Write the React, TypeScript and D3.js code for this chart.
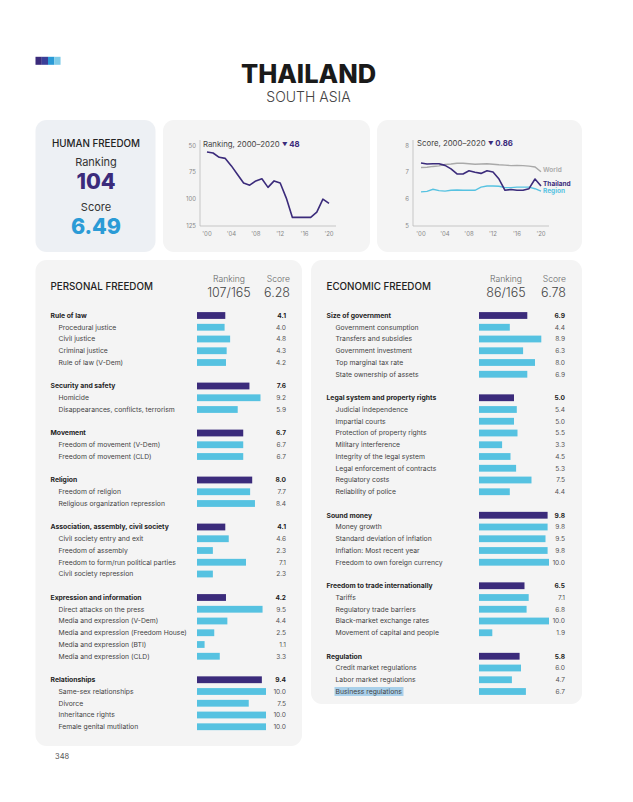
import React from "react";
import * as d3 from "d3";

// ---------- DATA ----------
const country = "THAILAND";
const regionName = "SOUTH ASIA";
const hfRanking = 104;
const hfScore = "6.49";

const years = [2000,2001,2002,2003,2004,2005,2006,2007,2008,2009,2010,2011,2012,2013,2014,2015,2016,2017,2018,2019,2020];
const rankingSeries = [56,57,61,62,69,77,85,87,83,81,89,83,85,99,117,117,117,117,112,100,104];
const thailandScore = [7.35,7.31,7.32,7.32,7.26,7.13,6.94,6.94,7.06,7.0,6.96,7.06,7.01,6.75,6.33,6.36,6.33,6.33,6.39,6.75,6.49];
const worldScore = [7.18,7.19,7.22,7.24,7.29,7.31,7.34,7.34,7.32,7.3,7.31,7.32,7.3,7.28,7.27,7.25,7.26,7.25,7.23,7.2,7.02];
const regionScore = [6.27,6.29,6.37,6.32,6.3,6.33,6.34,6.33,6.33,6.33,6.45,6.49,6.49,6.48,6.43,6.43,6.45,6.45,6.45,6.39,6.3];
const rankTicks = [50,75,100,125];
const scoreTicks = [5,6,7,8];
const yearTicks = [2000,2004,2008,2012,2016,2020];

const personalLabels = [
  "Rule of law","Procedural justice","Civil justice","Criminal justice","Rule of law (V-Dem)",
  "Security and safety","Homicide","Disappearances, conflicts, terrorism",
  "Movement","Freedom of movement (V-Dem)","Freedom of movement (CLD)",
  "Religion","Freedom of religion","Religious organization repression",
  "Association, assembly, civil society","Civil society entry and exit","Freedom of assembly","Freedom to form/run political parties","Civil society repression",
  "Expression and information","Direct attacks on the press","Media and expression (V-Dem)","Media and expression (Freedom House)","Media and expression (BTI)","Media and expression (CLD)",
  "Relationships","Same-sex relationships","Divorce","Inheritance rights","Female genital mutilation",
];
const personalValues = [
  4.1,4.0,4.8,4.3,4.2,
  7.6,9.2,5.9,
  6.7,6.7,6.7,
  8.0,7.7,8.4,
  4.1,4.6,2.3,7.1,2.3,
  4.2,9.5,4.4,2.5,1.1,3.3,
  9.4,10.0,7.5,10.0,10.0,
];
const personalHeader = [
  1,0,0,0,0,
  1,0,0,
  1,0,0,
  1,0,0,
  1,0,0,0,0,
  1,0,0,0,0,0,
  1,0,0,0,0,
];

const economicLabels = [
  "Size of government","Government consumption","Transfers and subsidies","Government investment","Top marginal tax rate","State ownership of assets",
  "Legal system and property rights","Judicial independence","Impartial courts","Protection of property rights","Military interference","Integrity of the legal system","Legal enforcement of contracts","Regulatory costs","Reliability of police",
  "Sound money","Money growth","Standard deviation of inflation","Inflation: Most recent year","Freedom to own foreign currency",
  "Freedom to trade internationally","Tariffs","Regulatory trade barriers","Black-market exchange rates","Movement of capital and people",
  "Regulation","Credit market regulations","Labor market regulations","Business regulations",
];
const economicValues = [
  6.9,4.4,8.9,6.3,8.0,6.9,
  5.0,5.4,5.0,5.5,3.3,4.5,5.3,7.5,4.4,
  9.8,9.8,9.5,9.8,10.0,
  6.5,7.1,6.8,10.0,1.9,
  5.8,6.0,4.7,6.7,
];
const economicHeader = [
  1,0,0,0,0,0,
  1,0,0,0,0,0,0,0,0,
  1,0,0,0,0,
  1,0,0,0,0,
  1,0,0,0,
];

// ---------- STYLE ----------
const DARK = "#3b2b7b";
const LIGHT = "#56c2e1";
const SCOREBLUE = "#2b9bd6";
const FONT = "Inter, 'Open Sans', sans-serif";

function rowSteps(header: number[]) {
  const steps: number[] = [];
  let s = -1;
  header.forEach((h, i) => {
    if (h && i > 0) s += 2; else s += 1;
    steps.push(s);
  });
  return steps;
}

function Panel(props: {
  x: number; w: number; y: number; h: number;
  title: string; rank: string; score: string;
  labels: string[]; values: number[]; header: number[];
  barX0: number; barX1: number; valueX: number; labelX: number; subX: number;
  rankX: number; scoreX: number; highlight?: string;
}) {
  const p = props;
  const steps = rowSteps(p.header);
  const y = d3.scaleLinear().domain([0, 1]).range([315.5, 327.25]);
  const xb = d3.scaleLinear().domain([0, 10]).range([p.barX0, p.barX1]);
  return (
    <g>
      <rect x={p.x} y={p.y} width={p.w} height={p.h} rx={11} fill="#f4f4f4" />
      <text x={p.labelX} y={289.5} fontSize={9.8} fontWeight={500} fill="#222">{p.title}</text>
      <text x={p.rankX} y={282} fontSize={8.6} fill="#666" textAnchor="middle" fontWeight={300}>Ranking</text>
      <text x={p.rankX} y={297} fontSize={12.5} fill="#444" textAnchor="middle" fontWeight={300}>{p.rank}</text>
      <text x={p.scoreX} y={282} fontSize={8.6} fill="#666" textAnchor="end" fontWeight={300}>Score</text>
      <text x={p.scoreX} y={297} fontSize={12.5} fill="#444" textAnchor="end" fontWeight={300}>{p.score}</text>
      {p.labels.map((lab, i) => {
        const cy = y(steps[i]);
        const isH = p.header[i] === 1;
        const tx = isH ? p.labelX : p.subX;
        return (
          <g key={i}>
            {p.highlight === lab && (
              <rect x={tx - 1} y={cy - 4.5} width={69} height={9} fill="#a9d0ea" />
            )}
            <text x={tx} y={cy + 2.4} fontSize={6.8} fontWeight={isH ? 700 : 400} fill={isH ? "#1e1e1e" : "#444"}>{lab}</text>
            <rect x={xb(0)} y={cy - 3.4} width={xb(p.values[i]) - xb(0)} height={6.8} fill={isH ? DARK : LIGHT} />
            <text x={p.valueX} y={cy + 2.4} fontSize={6.6} textAnchor="end" fontWeight={isH ? 700 : 400} fill={isH ? "#1e1e1e" : "#555"}>{p.values[i].toFixed(1)}</text>
          </g>
        );
      })}
    </g>
  );
}

export default function App() {
  const yearFmt = (v: number) => "'" + String(v).slice(2);

  // Ranking chart
  const rx = d3.scaleLinear().domain([2000, 2020]).range([207, 329]);
  const ry = d3.scaleLinear().domain([50, 125]).range([145.5, 226]);
  const rankLine = d3.line<number>().x((_, i) => rx(years[i])).y((d) => ry(d))(rankingSeries) || "";

  // Score chart
  const sx = d3.scaleLinear().domain([2000, 2020]).range([421, 541]);
  const sy = d3.scaleLinear().domain([5, 8]).range([226, 145.5]);
  const sLine = d3.line<number>().x((_, i) => sx(years[i])).y((d) => sy(d));

  return (
    <svg width={633} height={802} style={{ position: "absolute", left: 0, top: 0, display: "block", fontFamily: FONT }}>
      <rect x={0} y={0} width={633} height={802} fill="#fff" />
      {/* colour squares */}
      {[DARK, "#3b3f98", "#2a9ad6", "#7ecbe8"].map((c, i) => (
        <rect key={i} x={35.5 + i * 6.25} y={56.8} width={6.3} height={8} fill={c} />
      ))}
      <text x={308.5} y={83} textAnchor="middle" fontSize={25.5} fontWeight={800} fill="#1a1a1a">{country}</text>
      <text x={308.5} y={102} textAnchor="middle" fontSize={14} fontWeight={300} fill="#444">{regionName}</text>

      {/* Human freedom box */}
      <rect x={35.5} y={120} width={120} height={132} rx={11} fill="#edf0f4" />
      <text x={96} y={146.5} textAnchor="middle" fontSize={9.8} fontWeight={500} fill="#222">HUMAN FREEDOM</text>
      <text x={96} y={165.5} textAnchor="middle" fontSize={11} fontWeight={400} fill="#333">Ranking</text>
      <text x={96} y={189} textAnchor="middle" fontSize={21.5} fontWeight={800} fill={DARK}>{hfRanking}</text>
      <text x={96} y={211} textAnchor="middle" fontSize={11} fontWeight={400} fill="#333">Score</text>
      <text x={96} y={234} textAnchor="middle" fontSize={21.5} fontWeight={800} fill={SCOREBLUE}>{hfScore}</text>

      {/* Ranking chart box */}
      <rect x={163} y={120} width={207} height={132} rx={11} fill="#f4f4f4" />
      <line x1={200} x2={200} y1={140} y2={226} stroke="#bbb" strokeWidth={0.8} />
      <line x1={200} x2={336} y1={226} y2={226} stroke="#bbb" strokeWidth={0.8} />
      {rankTicks.map((t) => (
        <text key={t} x={196} y={ry(t) + 2} textAnchor="end" fontSize={6} fill="#888">{t}</text>
      ))}
      {yearTicks.map((t) => (
        <text key={t} x={rx(t)} y={235.5} textAnchor="middle" fontSize={6} fill="#888">{yearFmt(t)}</text>
      ))}
      <text x={203} y={147} fontSize={7.8} fill="#444">Ranking, 2000–2020 <tspan fill={DARK} fontSize={5.5}>▼</tspan><tspan fill={DARK} fontWeight={700}> 48</tspan></text>
      <path d={rankLine} fill="none" stroke={DARK} strokeWidth={1.6} strokeLinejoin="round" />

      {/* Score chart box */}
      <rect x={377} y={120} width={205} height={132} rx={11} fill="#f4f4f4" />
      <line x1={413} x2={413} y1={140} y2={226} stroke="#bbb" strokeWidth={0.8} />
      <line x1={413} x2={549} y1={226} y2={226} stroke="#bbb" strokeWidth={0.8} />
      {scoreTicks.map((t) => (
        <text key={t} x={409} y={sy(t) + 2} textAnchor="end" fontSize={6} fill="#888">{t}</text>
      ))}
      {yearTicks.map((t) => (
        <text key={t} x={sx(t)} y={235.5} textAnchor="middle" fontSize={6} fill="#888">{yearFmt(t)}</text>
      ))}
      <text x={417} y={146} fontSize={7.8} fill="#444">Score, 2000–2020 <tspan fill={DARK} fontSize={5.5}>▼</tspan><tspan fill={DARK} fontWeight={700}> 0.86</tspan></text>
      <path d={sLine(worldScore) || ""} fill="none" stroke="#a9a9a9" strokeWidth={1.4} />
      <path d={sLine(regionScore) || ""} fill="none" stroke={LIGHT} strokeWidth={1.4} />
      <path d={sLine(thailandScore) || ""} fill="none" stroke={DARK} strokeWidth={1.6} strokeLinejoin="round" />
      <text x={543} y={172} fontSize={6.5} fontWeight={600} fill="#a9a9a9">World</text>
      <text x={543} y={186} fontSize={6.5} fontWeight={700} fill={DARK}>Thailand</text>
      <text x={543} y={193} fontSize={6.5} fontWeight={700} fill={LIGHT}>Region</text>

      <Panel x={35.5} w={266.5} y={260} h={486} title="PERSONAL FREEDOM" rank="107/165" score="6.28"
        labels={personalLabels} values={personalValues} header={personalHeader}
        barX0={197} barX1={266} valueX={286} labelX={50.5} subX={58.5} rankX={229} scoreX={290} />
      <Panel x={311} w={271} y={260} h={444} title="ECONOMIC FREEDOM" rank="86/165" score="6.78"
        labels={economicLabels} values={economicValues} header={economicHeader}
        barX0={479} barX1={549} valueX={565} labelX={326.5} subX={335.5} rankX={506} scoreX={566}
        highlight="Business regulations" />

      <text x={55} y={759} fontSize={7.5} fill="#555">348</text>
    </svg>
  );
}
